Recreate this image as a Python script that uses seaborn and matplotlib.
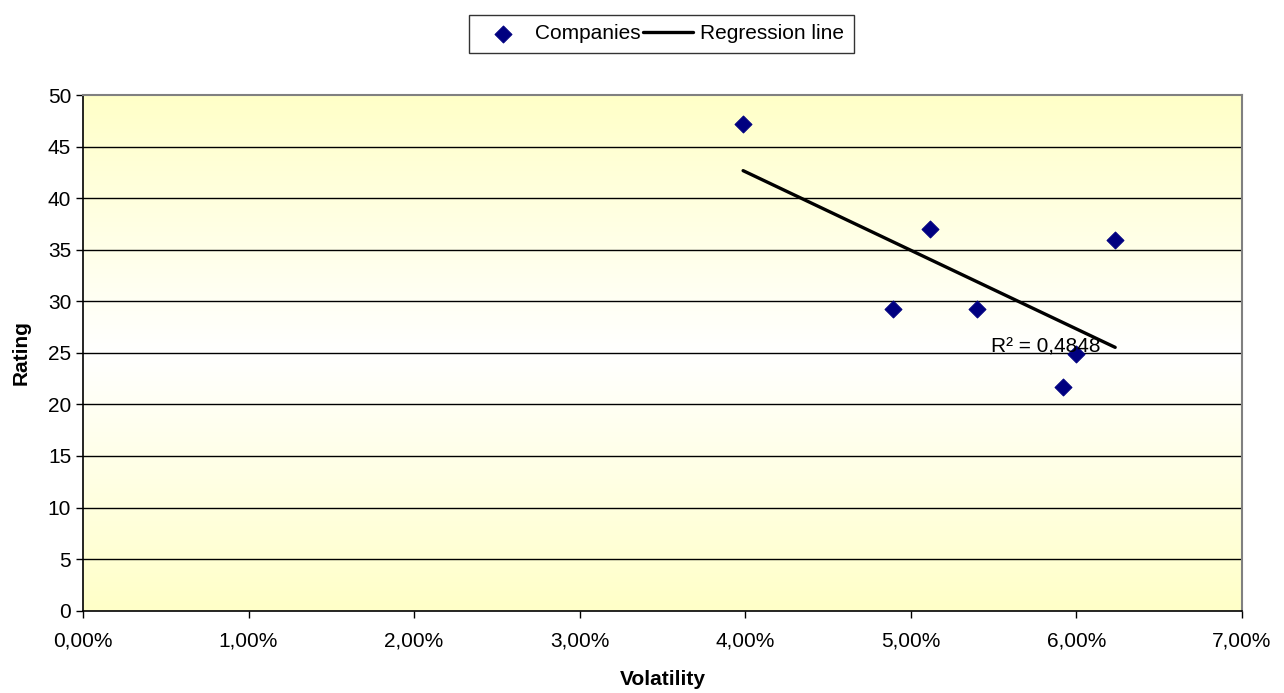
import numpy as np
import pandas as pd
import matplotlib
matplotlib.use('Agg')
import matplotlib.pyplot as plt
import matplotlib.ticker as mtick
from matplotlib.colors import LinearSegmentedColormap
import seaborn as sns

# Data
volatility = [0.03987, 0.04893, 0.05117, 0.05399, 0.05916, 0.05998, 0.06234]
rating = [47.2, 29.26, 37.0, 29.26, 21.7, 24.87, 35.9]
x_ticks = [0.0, 0.01, 0.02, 0.03, 0.04, 0.05, 0.06, 0.07]
y_ticks = [0, 5, 10, 15, 20, 25, 30, 35, 40, 45, 50]
r2_label = 'R² = 0,4848'

df = pd.DataFrame({'Volatility': volatility, 'Rating': rating})

sns.set_style('white')
plt.rcParams['font.family'] = ['Liberation Sans', 'DejaVu Sans']
plt.rcParams['text.color'] = 'black'
plt.rcParams['axes.labelcolor'] = 'black'
plt.rcParams['xtick.color'] = 'black'
plt.rcParams['ytick.color'] = 'black'

fig = plt.figure(figsize=(12.84, 6.93), dpi=100)
ax = fig.add_axes([0.0646, 0.1188, 0.9027, 0.7441])

# yellow -> white -> yellow background gradient like Excel
cmap = LinearSegmentedColormap.from_list('bg', ['#FFFFC8', '#FFFFFF', '#FFFFC8'])
grad = np.linspace(0, 1, 256).reshape(-1, 1)
ax.imshow(grad, cmap=cmap, aspect='auto', extent=[0, 0.07, 0, 50], zorder=0)

# horizontal gridlines
for yv in y_ticks[1:-1]:
    ax.axhline(yv, color='black', lw=1, zorder=1)

sns.scatterplot(data=df, x='Volatility', y='Rating', marker='D', s=75,
                color='#000080', edgecolor='#000080', label='Companies',
                ax=ax, zorder=3)

# linear fit over the data range
slope, intercept = np.polyfit(df['Volatility'], df['Rating'], 1)
fit_x = np.array([df['Volatility'].min(), df['Volatility'].max()])
sns.lineplot(x=fit_x, y=slope * fit_x + intercept, color='black', lw=2.4,
             label='Regression line', ax=ax, zorder=4)

ax.text(0.05483, 25.6, r2_label, fontsize=15, ha='left', va='center', zorder=5)

ax.set_xlim(0, 0.07)
ax.set_ylim(0, 50)
ax.set_xticks(x_ticks)
ax.set_yticks(y_ticks)
ax.xaxis.set_major_formatter(mtick.FuncFormatter(lambda v, p: f'{v*100:.2f}%'.replace('.', ',')))
ax.tick_params(axis='both', labelsize=15, length=5, width=1, color='black',
               direction='out', bottom=True, left=True)
ax.tick_params(axis='x', pad=10)

for s in ['left', 'bottom']:
    ax.spines[s].set_color('black')
    ax.spines[s].set_linewidth(1.2)
for s in ['top', 'right']:
    ax.spines[s].set_color('#808080')
    ax.spines[s].set_linewidth(1.5)

ax.set_xlabel('Volatility', fontsize=15, fontweight='bold', labelpad=14)
ax.set_ylabel('Rating', fontsize=15, fontweight='bold', labelpad=12)

leg = ax.legend(loc='center', bbox_to_anchor=(0.499, 1.119), ncol=2, fontsize=15,
                frameon=True, fancybox=False, edgecolor='black', handlelength=2.4,
                handletextpad=0.35, columnspacing=0.1, borderpad=0.45)
leg.get_frame().set_linewidth(1)

fig.savefig('out.png', dpi=100)
